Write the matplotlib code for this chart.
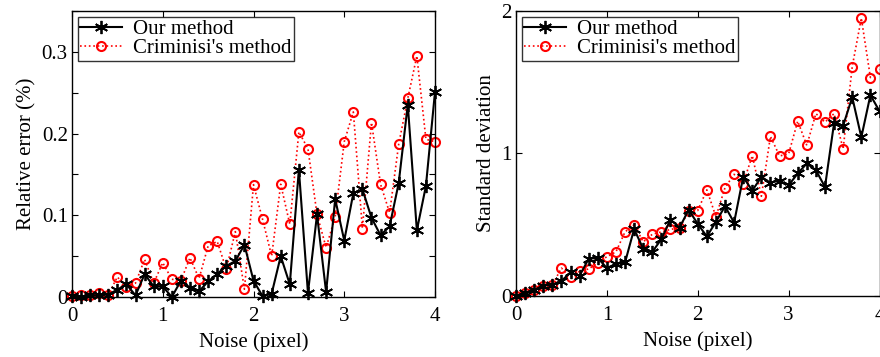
import numpy as np
import matplotlib
matplotlib.use("Agg")
import matplotlib.pyplot as plt
from matplotlib.ticker import MultipleLocator, FuncFormatter

plt.rcParams["font.family"] = ["Liberation Serif", "DejaVu Serif"]

# noise levels (pixel), 0 to 4 in steps of 0.1
noise = np.round(np.arange(0, 4.01, 0.1), 1)

# relative error (%)
err_ours = [0.001, 0.000, 0.002, 0.002, 0.003, 0.009, 0.0155, 0.002, 0.028, 0.013,
            0.013, 0.000, 0.020, 0.0115, 0.007, 0.019, 0.028, 0.038, 0.044, 0.064,
            0.020, 0.001, 0.004, 0.050, 0.0155, 0.156, 0.005, 0.101, 0.006, 0.120,
            0.069, 0.127, 0.132, 0.097, 0.0755, 0.0865, 0.1395, 0.2355, 0.0815, 0.136,
            0.251]
err_crim = [0.001, 0.002, 0.002, 0.005, 0.003, 0.0245, 0.012, 0.017, 0.046, 0.017,
            0.042, 0.0217, 0.020, 0.048, 0.0225, 0.0625, 0.068, 0.034, 0.080, 0.0095,
            0.1375, 0.095, 0.050, 0.138, 0.089, 0.202, 0.1815, 0.101, 0.0605, 0.098,
            0.190, 0.2265, 0.0837, 0.2135, 0.138, 0.103, 0.187, 0.243, 0.295, 0.193,
            0.190]

# standard deviation
std_ours = [0.000, 0.019, 0.043, 0.073, 0.078, 0.106, 0.165, 0.142, 0.262, 0.267,
            0.196, 0.225, 0.236, 0.470, 0.331, 0.309, 0.400, 0.536, 0.480, 0.605,
            0.506, 0.418, 0.520, 0.630, 0.515, 0.835, 0.740, 0.835, 0.795, 0.810,
            0.777, 0.860, 0.930, 0.883, 0.765, 1.213, 1.196, 1.395, 1.114, 1.410,
            1.297]
std_crim = [0.000, 0.019, 0.043, 0.073, 0.078, 0.196, 0.132, 0.173, 0.190, 0.232,
            0.276, 0.310, 0.450, 0.500, 0.380, 0.433, 0.450, 0.467, 0.480, 0.594,
            0.600, 0.745, 0.557, 0.760, 0.854, 0.789, 0.985, 0.700, 1.120, 0.983,
            0.997, 1.227, 1.057, 1.280, 1.220, 1.280, 1.032, 1.610, 1.950, 1.533,
            1.590]

labels = ["Our method", "Criminisi's method"]
FS = 15

fig = plt.figure(figsize=(8.8, 3.57), dpi=100)
ax1 = fig.add_axes([72 / 880, 60 / 357, 363 / 880, 286 / 357])
ax2 = fig.add_axes([516 / 880, 61 / 357, 363.5 / 880, 285 / 357])

asterisk = (6, 2, 0)


def draw(ax, ours, crim, ylim, ylabel):
    ax.plot(noise, ours, "-", color="black", lw=1.5, marker=asterisk,
            ms=9.5, mew=1.3, label=labels[0], clip_on=False, zorder=3)
    ax.plot(noise, crim, ":", color="red", lw=1.2, marker="o", ms=6.5,
            mfc="none", mec="red", mew=1.5, label=labels[1], clip_on=False, zorder=2)
    ax.set_xlim(0, 4)
    ax.set_ylim(*ylim)
    ax.set_xlabel("Noise (pixel)", fontsize=FS, labelpad=5)
    ax.set_ylabel(ylabel, fontsize=FS, labelpad=4)
    ax.xaxis.set_major_locator(MultipleLocator(1))
    ax.tick_params(which="both", direction="in", top=True, right=True,
                   labelsize=FS, width=0.8, length=4, pad=3)
    ax.tick_params(axis="x", pad=7)
    for sp in ax.spines.values():
        sp.set_linewidth(1.0)
    leg = ax.legend(loc="upper left", fontsize=FS, frameon=True, fancybox=False,
                    edgecolor="black", borderpad=0.1, labelspacing=0.0,
                    handlelength=2.0, handletextpad=0.55, borderaxespad=0.3)
    leg.get_frame().set_linewidth(1.0)


draw(ax1, err_ours, err_crim, (0, 0.35), "Relative error (%)")
ax1.yaxis.set_major_locator(MultipleLocator(0.1))
ax1.yaxis.set_minor_locator(MultipleLocator(0.05))
ax1.yaxis.set_major_formatter(FuncFormatter(lambda v, p: "0" if abs(v) < 1e-9 else f"{v:.1f}"))

draw(ax2, std_ours, std_crim, (0, 2), "Standard deviation")
ax2.yaxis.set_major_locator(MultipleLocator(1))

fig.savefig("out.png", dpi=100)
